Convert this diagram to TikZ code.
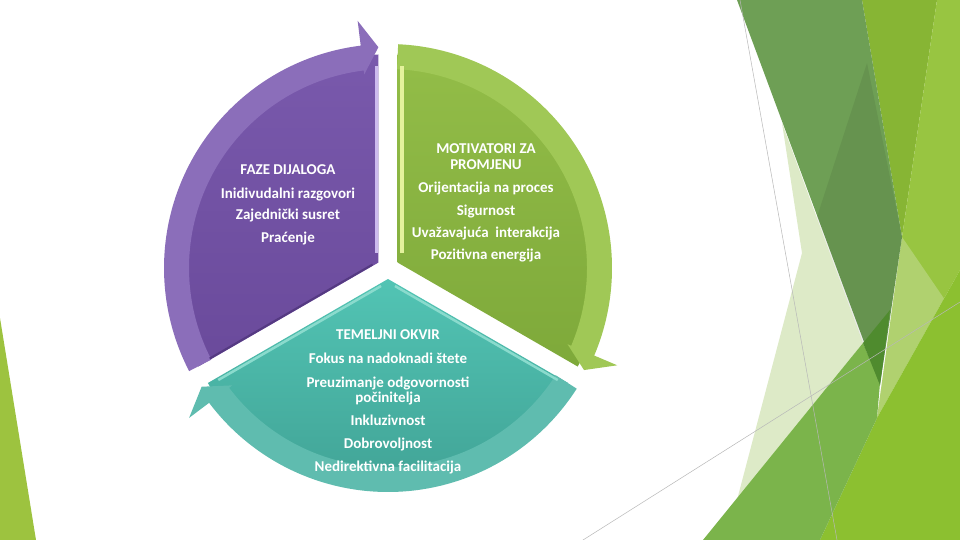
\documentclass[tikz,border=0pt]{standalone}
\usepackage{fontspec}
\setmainfont{Carlito}
\usetikzlibrary{calc}
\definecolor{purT}{HTML}{7959AC}
\definecolor{purD}{HTML}{6A4A9B}
\definecolor{purB}{HTML}{8B6EBA}
\definecolor{purH}{HTML}{CDBBEE}
\definecolor{purS}{HTML}{553A82}
\definecolor{grnT}{HTML}{93BD48}
\definecolor{grnD}{HTML}{7EA93A}
\definecolor{grnB}{HTML}{A0C856}
\definecolor{grnH}{HTML}{E4F29C}
\definecolor{tlT}{HTML}{52C4B4}
\definecolor{tlD}{HTML}{3F9F92}
\definecolor{tlB}{HTML}{5FBCAF}
\definecolor{tlH}{HTML}{8ADBCD}
\definecolor{fA}{HTML}{6E9F55}
\definecolor{fB}{HTML}{87B534}
\definecolor{fC}{HTML}{98C541}
\definecolor{fD}{HTML}{8CC030}
\definecolor{fE}{HTML}{DDEAC7}
\definecolor{fF}{HTML}{7BB44B}
\definecolor{fG}{HTML}{4F8B2E}
\definecolor{fL}{HTML}{9DC33F}
\tikzset{
  lbl/.style={text=white, font=\bfseries\fontsize{15}{18}\selectfont, anchor=base, inner sep=0pt},
  hair/.style={draw=black!28, line width=0.5pt},
}
\newcommand{\cycleSeg}[5]{%
  \pgfmathsetmacro\segMid{#1+60}%
  \pgfmathsetmacro\segEnd{#1+120}%
  \pgfmathsetmacro\segTail{#1+2.6}%
  \pgfmathsetmacro\segBase{#1+113}%
  \pgfmathsetmacro\segTip{#1+117.5}%
  \coordinate (#5) at ($(O)+(\segMid:11)$);
  \begin{scope}[shift={(#5)}]
    \shade[top color=#2,bottom color=#3] (0,0) -- (#1:208) arc[start angle=#1,end angle=\segEnd,radius=208] -- cycle;
  \end{scope}
  \begin{scope}[shift={(O)}]
    \fill[#4] (\segTail:199) -- (\segTail:224) arc[start angle=\segTail,end angle=\segBase,radius=224]
      -- (\segBase:249) -- (\segTip:221) -- (\segBase:195) -- (\segBase:199)
      arc[start angle=\segBase,end angle=\segTail,radius=199] -- cycle;
  \end{scope}}
\begin{document}
\begin{tikzpicture}[x=1pt,y=-1pt]
\useasboundingbox (0,0) rectangle (960,540);
\fill[white] (0,0) rectangle (960,540);
% background facets
\fill[fE] (782,123) -- (802,253) -- (737,500) -- (863,343) -- cycle;
\fill[fB] (862,0) -- (937,0) -- (902,237) -- cycle;
\fill[fC] (937,0) -- (960,0) -- (960,270) -- (877,418) -- (902,237) -- cycle;
\fill[fE, opacity=.35] (902,237) -- (877,418) -- (945,300) -- cycle;
\fill[fD] (960,270) -- (960,540) -- (820,540) -- (877,418) -- cycle;
\fill[fF] (703,540) -- (863,343) -- (880,383) -- (877,418) -- (820,540) -- cycle;
\fill[fA] (737,0) -- (862,0) -- (902,237) -- (880,385) -- cycle;
\fill[black, opacity=.07] (867,63) -- (902,237) -- (880,385) -- (863,343) -- (817,217) -- cycle;
\fill[fG] (863,343) -- (890,310) -- (880,385) -- cycle;
\fill[fL] (0,318) -- (0,540) -- (36,540) -- cycle;
\coordinate (h1a) at (740,0);
\coordinate (h1b) at (837,540);
\coordinate (h2a) at (583,540);
\coordinate (h2b) at (960,302);
\draw[hair] (h1a) -- (h1b);
\draw[hair] (h2a) -- (h2b);
% cycle
\coordinate (O) at (388,268);
\cycleSeg{150}{purT}{purD}{purB}{P}
\cycleSeg{-90}{grnT}{grnD}{grnB}{G}
\cycleSeg{30}{tlT}{tlD}{tlB}{T}
% bevel highlights
\draw[purH, line width=2.5pt] ($(P)+(-2,-10)$) -- ($(P)+(-2,-196)$);
\draw[purS, line width=2pt] ($(P)+(150:8)+(1,-2)$) -- ($(P)+(150:196)+(1,-2)$);
\draw[grnH, line width=4pt] ($(G)+(4,-10)$) -- ($(G)+(4,-196)$);
\draw[tlH, line width=2.5pt] ($(T)+(30:8)+(0,3)$) -- ($(T)+(30:196)+(0,3)$);
\draw[tlH, line width=2.5pt] ($(T)+(150:8)+(0,3)$) -- ($(T)+(150:196)+(0,3)$);
% texts
\node[lbl] (p1) at (288,175) {FAZE DIJALOGA};
\node[lbl] (p2) at (288,198) {Inidivudalni razgovori};
\node[lbl] (p3) at (288,219) {Zajednički susret};
\node[lbl] (p4) at (288,242) {Praćenje};
\node[lbl] (g1) at (486,154) {MOTIVATORI ZA};
\node[lbl] (g2) at (486,170) {PROMJENU};
\node[lbl] (g3) at (486,192) {Orijentacija na proces};
\node[lbl] (g4) at (486,215) {Sigurnost};
\node[lbl] (g5) at (486,237) {Uvažavajuća~ interakcija};
\node[lbl] (g6) at (486,259) {Pozitivna energija};
\node[lbl] (t1) at (388,339) {TEMELJNI OKVIR};
\node[lbl] (t2) at (388,363) {Fokus na nadoknadi štete};
\node[lbl] (t3) at (388,387) {Preuzimanje odgovornosti};
\node[lbl] (t4) at (388,402) {počinitelja};
\node[lbl] (t5) at (388,425) {Inkluzivnost};
\node[lbl] (t6) at (388,448) {Dobrovoljnost};
\node[lbl] (t7) at (388,471) {Nedirektivna facilitacija};
\end{tikzpicture}
\end{document}
